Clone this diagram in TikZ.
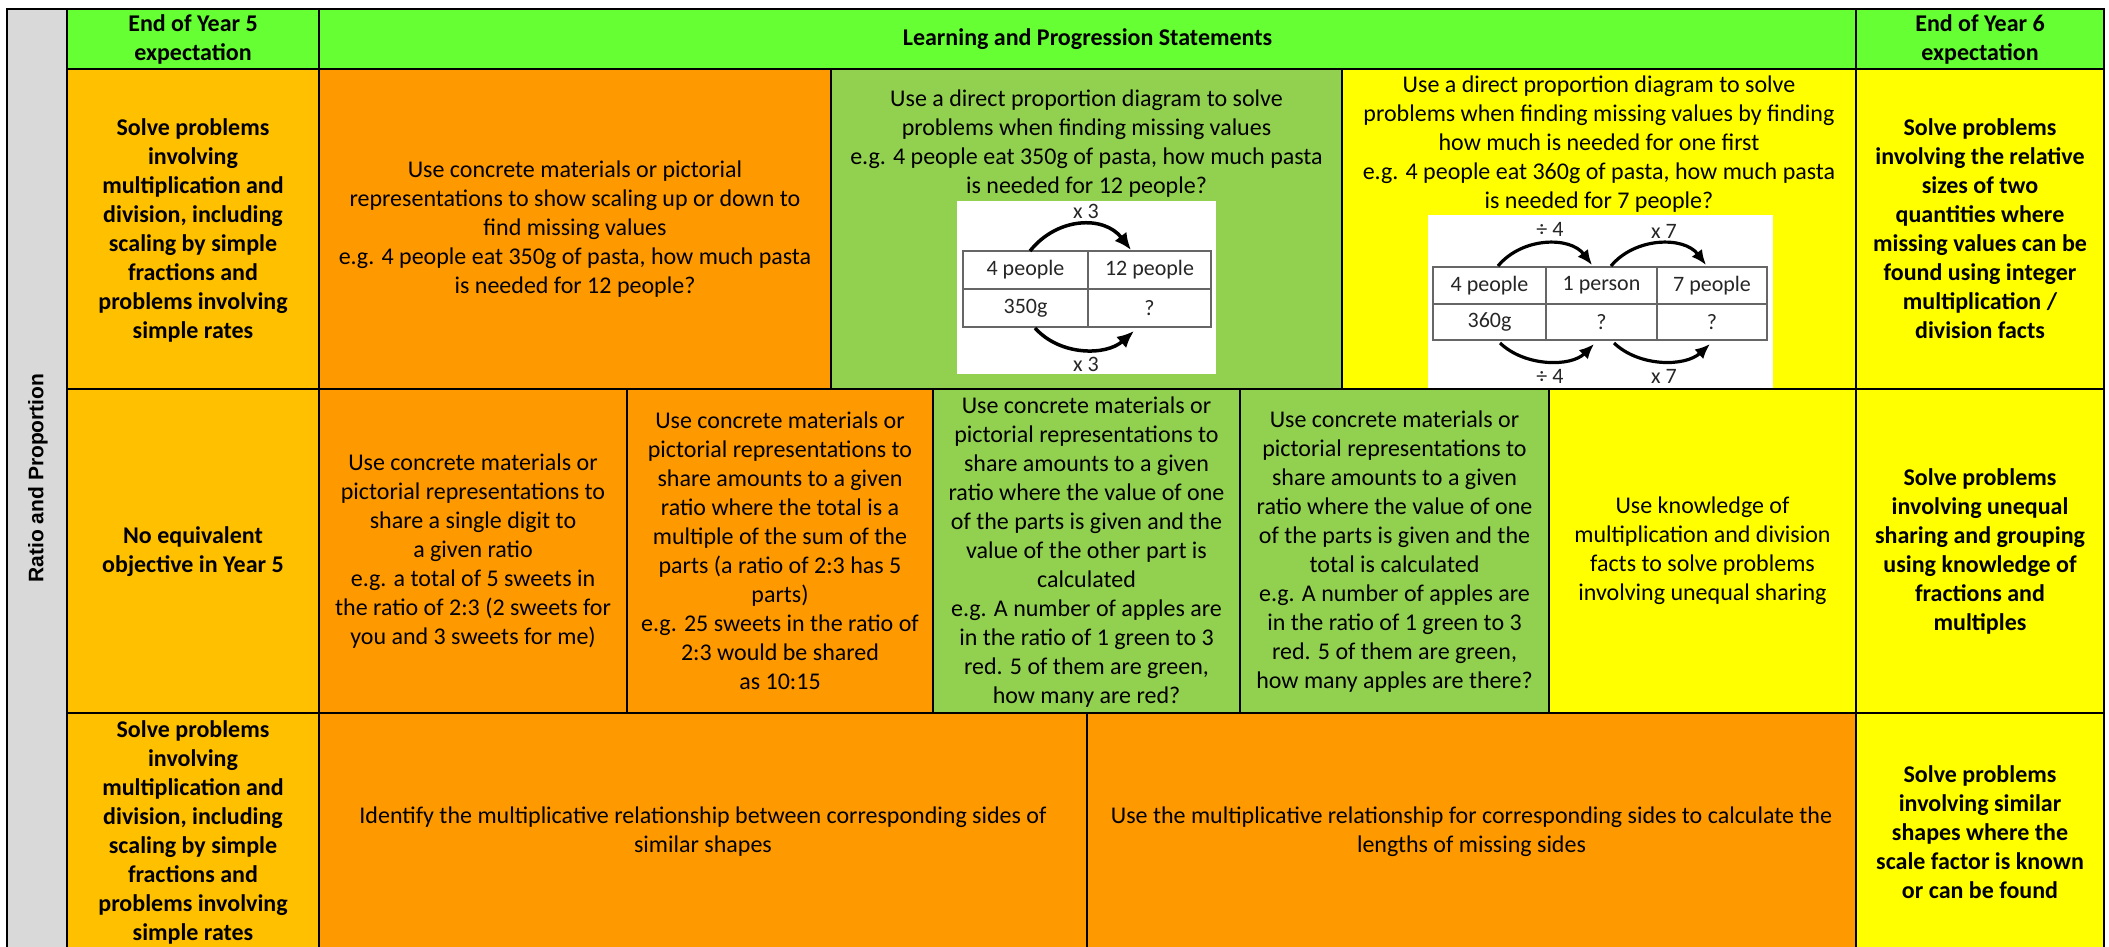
\documentclass[tikz,border=0pt]{standalone}
\usepackage{fontspec}
\setmainfont{Carlito}
\newfontfamily\sidefont{Liberation Sans}
\usetikzlibrary{arrows.meta}
\definecolor{hdrgreen}{HTML}{66FF33}
\definecolor{gold}{HTML}{FFC000}
\definecolor{orng}{HTML}{FF9900}
\definecolor{lgreen}{HTML}{92D050}
\definecolor{yel}{HTML}{FFFF00}
\definecolor{gry}{HTML}{D9D9D9}
\newcommand\cellfont{\fontsize{24}{29}\selectfont}
\newcommand\picfont{\fontsize{22}{26}\selectfont}
\begin{document}
\begin{tikzpicture}[x=1pt,y=-1pt,
  cellbox/.style={draw=black,line width=2.2pt},
  body/.style={align=center,font=\cellfont,inner sep=0pt},
  boldtxt/.style={align=center,font=\cellfont\bfseries,inner sep=0pt},
  ptxt/.style={font=\picfont,inner sep=0pt,text=black!85},
  pgrid/.style={draw=black!60,line width=2pt},
  parr/.style={line width=3.5pt,-{Latex[length=17pt,width=15pt]}},
  parrs/.style={line width=3.2pt,-{Latex[length=15pt,width=13pt]}},
]
\useasboundingbox (0,0) rectangle (2109,947);
\clip (0,0) rectangle (2109,947);
\fill[white] (0,0) rectangle (2109,947);
% side column
\draw[cellbox,fill=gry] (7,9) rectangle (67,951);
% header
\draw[cellbox,fill=hdrgreen] (67,9) rectangle (319,69);
\draw[cellbox,fill=hdrgreen] (319,9) rectangle (1856,69);
\draw[cellbox,fill=hdrgreen] (1856,9) rectangle (2104,69);
% row 1
\draw[cellbox,fill=gold] (67,69) rectangle (319,389);
\draw[cellbox,fill=orng] (319,69) rectangle (831,389);
\draw[cellbox,fill=lgreen] (831,69) rectangle (1342,389);
\draw[cellbox,fill=yel] (1342,69) rectangle (1856,389);
\draw[cellbox,fill=yel] (1856,69) rectangle (2104,389);
% row 2
\draw[cellbox,fill=gold] (67,389) rectangle (319,713);
\draw[cellbox,fill=orng] (319,389) rectangle (627,713);
\draw[cellbox,fill=orng] (627,389) rectangle (933,713);
\draw[cellbox,fill=lgreen] (933,389) rectangle (1240,713);
\draw[cellbox,fill=lgreen] (1240,389) rectangle (1549,713);
\draw[cellbox,fill=yel] (1549,389) rectangle (1856,713);
\draw[cellbox,fill=yel] (1856,389) rectangle (2104,713);
% row 3
\draw[cellbox,fill=gold] (67,713) rectangle (319,951);
\draw[cellbox,fill=orng] (319,713) rectangle (1087,951);
\draw[cellbox,fill=orng] (1087,713) rectangle (1856,951);
\draw[cellbox,fill=yel] (1856,713) rectangle (2104,951);

% side label
\node[rotate=90,font=\sidefont\bfseries\fontsize{21}{25}\selectfont,inner sep=0pt] (side) at (38,478) {Ratio and Proportion};

% header texts
\node[boldtxt] (h5) at (193,39) {End of Year 5\\expectation};
\node[boldtxt] (hlp) at (1087.5,39) {Learning and Progression Statements};
\node[boldtxt] (h6) at (1980,39) {End of Year 6\\expectation};

% row 1 texts
\node[boldtxt] (r1y5) at (193,230) {Solve problems\\involving\\multiplication and\\division, including\\scaling by simple\\fractions and\\problems involving\\simple rates};
\node[body] (r1a) at (575,229) {Use concrete materials or pictorial\\representations to show scaling up or down to\\find missing values\\e.g. 4 people eat 350g of pasta, how much pasta\\is needed for 12 people?};
\node[body] (r1b) at (1086.5,144) {Use a direct proportion diagram to solve\\problems when finding missing values\\e.g. 4 people eat 350g of pasta, how much pasta\\is needed for 12 people?};
\node[body] (r1c) at (1599,144) {Use a direct proportion diagram to solve\\problems when finding missing values by finding\\how much is needed for one first\\e.g. 4 people eat 360g of pasta, how much pasta\\is needed for 7 people?};
\node[boldtxt] (r1y6) at (1980,229) {Solve problems\\involving the relative\\sizes of two\\quantities where\\missing values can be\\found using integer\\multiplication /\\division facts};

% picture 1
\fill[white] (957,201) rectangle (1216,374);
\draw[pgrid] (963,251) rectangle (1211,327);
\draw[pgrid] (963,289) -- (1211,289);
\draw[pgrid] (1088,251) -- (1088,327);
\node[ptxt] (p1a) at (1025.5,270) {4 people};
\node[ptxt] (p1b) at (1149.5,270) {12 people};
\node[ptxt] (p1c) at (1025.5,308) {350g};
\node[ptxt] (p1d) at (1149.5,308) {?};
\node[ptxt] (p1t) at (1086,211) {x 3};
\node[ptxt] (p1u) at (1086,364) {x 3};
\coordinate (a1s) at (1030,251);
\coordinate (a1e) at (1131,250);
\coordinate (b1s) at (1035,328);
\coordinate (b1e) at (1134,331);
\draw[parr] (a1s) .. controls (1057,217) and (1104,215) .. (a1e);
\draw[parr] (b1s) .. controls (1060,356) and (1106,356) .. (b1e);

% picture 2
\fill[white] (1428,215) rectangle (1773,388);
\draw[pgrid] (1433,267) rectangle (1767,340);
\draw[pgrid] (1433,304) -- (1767,304);
\draw[pgrid] (1546,267) -- (1546,340);
\draw[pgrid] (1657,267) -- (1657,340);
\node[ptxt] (p2a) at (1489.5,285.5) {4 people};
\node[ptxt] (p2b) at (1601.5,285.5) {1 person};
\node[ptxt] (p2c) at (1712,285.5) {7 people};
\node[ptxt] (p2d) at (1489.5,322) {360g};
\node[ptxt] (p2e) at (1601.5,322) {?};
\node[ptxt] (p2f) at (1712,322) {?};
\node[ptxt] (p2t1) at (1550,229) {÷ 4};
\node[ptxt] (p2t2) at (1664,231) {x 7};
\node[ptxt] (p2u1) at (1550,376) {÷ 4};
\node[ptxt] (p2u2) at (1664,376) {x 7};
\coordinate (c1s) at (1498,266);
\coordinate (c1e) at (1592,265);
\coordinate (c2s) at (1611,266);
\coordinate (c2e) at (1706,265);
\coordinate (d1s) at (1500,343);
\coordinate (d1e) at (1594,344);
\coordinate (d2s) at (1614,343);
\coordinate (d2e) at (1710,344);
\draw[parrs] (c1s) .. controls (1522,237) and (1570,236) .. (c1e);
\draw[parrs] (c2s) .. controls (1635,237) and (1684,236) .. (c2e);
\draw[parrs] (d1s) .. controls (1525,367) and (1571,367) .. (d1e);
\draw[parrs] (d2s) .. controls (1639,367) and (1685,367) .. (d2e);

% row 2 texts
\node[boldtxt] (r2y5) at (193,552) {No equivalent\\objective in Year 5};
\node[body] (r2a) at (473,551) {Use concrete materials or\\pictorial representations to\\share a single digit to\\a given ratio\\e.g. a total of 5 sweets in\\the ratio of 2:3 (2 sweets for\\you and 3 sweets for me)};
\node[body] (r2b) at (780,551) {Use concrete materials or\\pictorial representations to\\share amounts to a given\\ratio where the total is a\\multiple of the sum of the\\parts (a ratio of 2:3 has 5\\parts)\\e.g. 25 sweets in the ratio of\\2:3 would be shared\\as 10:15};
\node[body] (r2c) at (1086.5,552) {Use concrete materials or\\pictorial representations to\\share amounts to a given\\ratio where the value of one\\of the parts is given and the\\value of the other part is\\calculated\\e.g. A number of apples are\\in the ratio of 1 green to 3\\red. 5 of them are green,\\how many are red?};
\node[body] (r2d) at (1394.5,552) {Use concrete materials or\\pictorial representations to\\share amounts to a given\\ratio where the value of one\\of the parts is given and the\\total is calculated\\e.g. A number of apples are\\in the ratio of 1 green to 3\\red. 5 of them are green,\\how many apples are there?};
\node[body] (r2e) at (1702.5,551) {Use knowledge of\\multiplication and division\\facts to solve problems\\involving unequal sharing};
\node[boldtxt] (r2y6) at (1980,551) {Solve problems\\involving unequal\\sharing and grouping\\using knowledge of\\fractions and\\multiples};

% row 3 texts
\node[boldtxt] (r3y5) at (193,832) {Solve problems\\involving\\multiplication and\\division, including\\scaling by simple\\fractions and\\problems involving\\simple rates};
\node[body] (r3a) at (703,832) {Identify the multiplicative relationship between corresponding sides of\\similar shapes};
\node[body] (r3b) at (1471.5,832) {Use the multiplicative relationship for corresponding sides to calculate the\\lengths of missing sides};
\node[boldtxt] (r3y6) at (1980,832) {Solve problems\\involving similar\\shapes where the\\scale factor is known\\or can be found};
\end{tikzpicture}
\end{document}
